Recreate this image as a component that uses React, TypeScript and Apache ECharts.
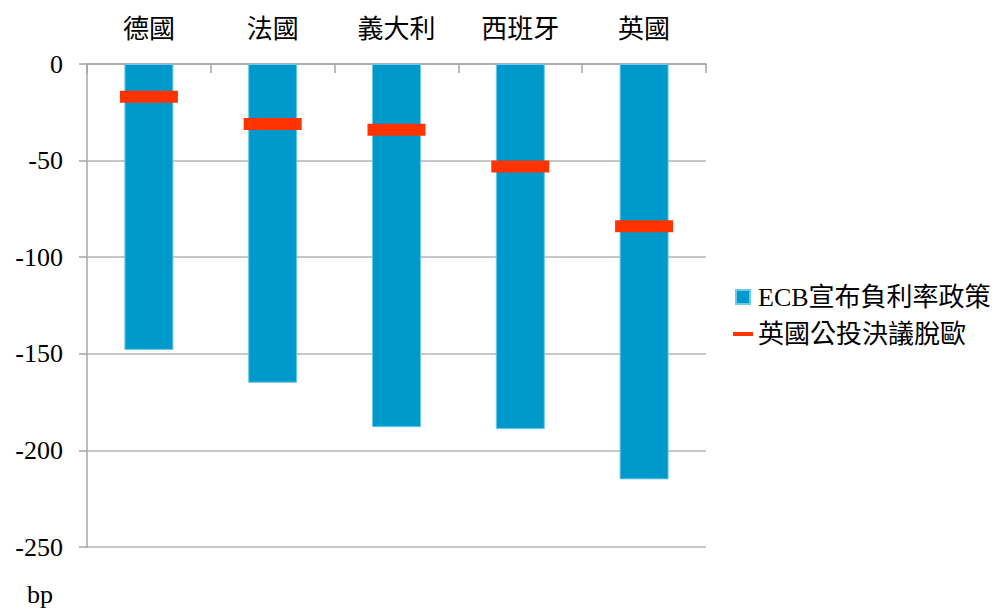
import React, { useEffect, useRef } from "react";
import * as echarts from "echarts";

const categories = ["德國", "法國", "義大利", "西班牙", "英國"];
const ecbValues = [-148, -165, -188, -189, -215];
const brexitValues = [-17, -31, -34, -53, -84];
const seriesNames = ["ECB宣布負利率政策", "英國公投決議脫歐"];
const unitLabel = "bp";

const FONT = "'Liberation Serif', 'Times New Roman', 'Noto Sans CJK TC', serif";

export default function App() {
  const ref = useRef<HTMLDivElement>(null);
  useEffect(() => {
    if (!ref.current) return;
    const chart = echarts.init(ref.current, null, { renderer: "svg" });
    chart.setOption({
      animation: false,
      backgroundColor: "#ffffff",
      textStyle: { fontFamily: FONT },
      grid: { left: 87, right: 296, top: 64, bottom: 62, containLabel: false },
      legend: {
        orient: "vertical",
        left: 728,
        top: 277,
        itemWidth: 20,
        itemHeight: 14,
        itemGap: 7,
        textStyle: { fontSize: 26, lineHeight: 30, color: "#000", fontFamily: FONT },
        data: [
          { name: seriesNames[0], icon: "path://M0,0H14V14H0Z" },
          { name: seriesNames[1], icon: "path://M0,0H20V4H0Z" },
        ],
      },
      xAxis: {
        type: "category",
        position: "top",
        data: categories,
        axisLine: { show: true, lineStyle: { color: "#a6a6a6", width: 1.5 } },
        axisTick: { show: true, inside: true, length: 9, lineStyle: { color: "#a6a6a6", width: 1.5 } },
        axisLabel: { color: "#000", fontSize: 26, margin: 22, fontFamily: FONT },
        splitLine: { show: false },
      },
      yAxis: {
        type: "value",
        min: -250,
        max: 0,
        interval: 50,
        axisLine: { show: true, lineStyle: { color: "#a6a6a6", width: 1.5 } },
        axisTick: { show: true, length: 8, lineStyle: { color: "#a6a6a6", width: 1.5 } },
        axisLabel: { color: "#000", fontSize: 26, margin: 24, fontFamily: FONT },
        splitLine: { show: true, lineStyle: { color: "#b4b4b4", width: 1.5 } },
      },
      series: [
        {
          name: seriesNames[0],
          type: "bar",
          data: ecbValues,
          barWidth: 49,
          itemStyle: { color: "#0099CC", borderColor: "#6cc9ea", borderWidth: 1 },
          z: 2,
        },
        {
          name: seriesNames[1],
          type: "scatter",
          data: brexitValues,
          symbol: "rect",
          symbolSize: [58, 12],
          itemStyle: { color: "#FF3300", opacity: 1 },
          z: 5,
        },
      ],
      graphic: [
        {
          type: "text",
          left: 27,
          top: 581,
          style: { text: unitLabel, fontSize: 26, fill: "#000", fontFamily: FONT },
        },
      ],
    });
    return () => chart.dispose();
  }, []);
  return (
    <div
      ref={ref}
      style={{ position: "fixed", left: 0, top: 0, width: 1002, height: 609 }}
    />
  );
}
